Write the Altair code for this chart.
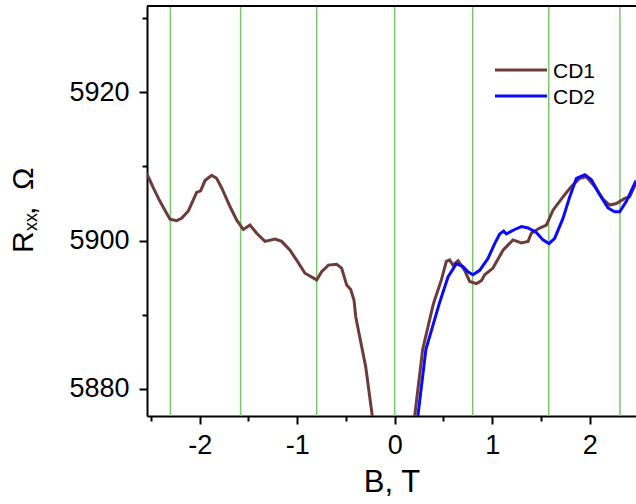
import altair as alt
import pandas as pd

# ---- data ----
cd1_neg_B = [-2.544, -2.475, -2.407, -2.356, -2.304, -2.236, -2.185, -2.116, -2.065, -2.031, -1.99,
             -1.945, -1.877, -1.826, -1.774, -1.689, -1.621, -1.552, -1.484, -1.415, -1.33, -1.227,
             -1.159, -1.073, -0.987, -0.92, -0.80, -0.749, -0.68, -0.595, -0.544, -0.492, -0.451,
             -0.417, -0.40, -0.366, -0.297, -0.229, -0.215]
cd1_neg_R = [5909.1, 5907.1, 5905.3, 5904.1, 5902.9, 5902.7, 5903.0, 5904.0, 5905.5, 5906.5, 5906.7,
             5908.1, 5908.8, 5908.4, 5907.1, 5904.6, 5902.8, 5901.5, 5902.1, 5901.0, 5899.9, 5900.2,
             5899.9, 5898.7, 5897.0, 5895.6, 5894.7, 5895.8, 5896.7, 5896.8, 5896.3, 5894.0, 5893.4,
             5892.0, 5889.8, 5887.5, 5883.0, 5876.3, 5874.5]

cd1_pos_B = [0.195, 0.205, 0.287, 0.39, 0.41, 0.479, 0.53, 0.564, 0.598, 0.65, 0.718, 0.769, 0.838,
             0.889, 0.923, 1.008, 1.111, 1.213, 1.30, 1.368, 1.402, 1.487, 1.556, 1.624, 1.726,
             1.812, 1.897, 1.966, 2.051, 2.136, 2.205, 2.274, 2.359, 2.41, 2.475]
cd1_pos_R = [5874.5, 5876.3, 5885.3, 5891.1, 5892.0, 5894.7, 5897.2, 5897.4, 5896.7, 5897.3, 5896.0,
             5894.5, 5894.2, 5894.6, 5895.4, 5896.3, 5898.7, 5900.1, 5899.7, 5899.9, 5901.0, 5901.7,
             5902.1, 5904.1, 5905.9, 5907.3, 5908.4, 5908.6, 5907.3, 5905.6, 5904.8, 5905.0, 5905.7,
             5905.9, 5907.8]

cd2_B = [0.225, 0.235, 0.32, 0.455, 0.547, 0.633, 0.70, 0.752, 0.803, 0.872, 0.957, 1.026, 1.077,
         1.118, 1.145, 1.231, 1.30, 1.368, 1.453, 1.521, 1.583, 1.641, 1.726, 1.795, 1.864, 1.95,
         2.018, 2.103, 2.188, 2.256, 2.308, 2.376, 2.475]
cd2_R = [5874.5, 5876.0, 5885.3, 5891.4, 5895.1, 5896.9, 5896.5, 5895.8, 5895.4, 5896.0, 5897.6,
         5899.6, 5900.9, 5901.3, 5900.9, 5901.5, 5901.9, 5901.7, 5901.1, 5900.1, 5899.6, 5900.3,
         5903.0, 5905.9, 5908.4, 5908.9, 5908.2, 5906.2, 5904.4, 5903.9, 5903.9, 5905.3, 5908.1]

green_B = [-2.30, -1.58, -0.80, 0.0, 0.80, 1.58, 2.31]

series_names = ["CD1", "CD2"]
x_ticks = [-2.5, -2, -1.5, -1, -0.5, 0, 0.5, 1, 1.5, 2]
y_ticks = [5880, 5890, 5900, 5910, 5920, 5930]

BROWN = "#6e3b3b"
BLUE = "#0a0aff"
GREEN = "#7cc46e"
FONT = "Liberation Sans"

rows = []
for b, r in zip(cd1_neg_B, cd1_neg_R):
    rows.append({"B": b, "R": r, "series": "CD1", "seg": "CD1a"})
for b, r in zip(cd1_pos_B, cd1_pos_R):
    rows.append({"B": b, "R": r, "series": "CD1", "seg": "CD1b"})
for b, r in zip(cd2_B, cd2_R):
    rows.append({"B": b, "R": r, "series": "CD2", "seg": "CD2"})
df = pd.DataFrame(rows)
df_g = pd.DataFrame({"B": green_B})

xscale = alt.Scale(domain=[-2.54, 2.475], nice=False, zero=False)
yscale = alt.Scale(domain=[5876.35, 5931.64], nice=False, zero=False)

xaxis = alt.Axis(
    values=x_ticks, title=None, grid=False,
    labelExpr="abs(datum.value % 1) > 0.01 ? '' : '' + datum.value",
    tickSize={"condition": {"test": "abs(datum.value % 1) > 0.01", "value": 5}, "value": 8},
    tickWidth=2, tickColor="black", domainWidth=2, domainColor="black",
    labelFont=FONT, labelFontSize=27, labelColor="black", labelPadding=8,
    labelOverlap=False, labelFlush=False,
)
yaxis = alt.Axis(
    values=y_ticks, title=None, grid=False,
    labelExpr="abs(datum.value % 20) > 1 ? '' : '' + datum.value",
    tickSize={"condition": {"test": "abs(datum.value % 20) > 1", "value": 5}, "value": 8},
    tickWidth=2, tickColor="black", domainWidth=2, domainColor="black",
    labelFont=FONT, labelFontSize=27, labelColor="black", labelPadding=10,
    labelOverlap=False, labelFlush=False,
)

green = alt.Chart(df_g).mark_rule(color=GREEN, strokeWidth=1.5).encode(
    x=alt.X("B:Q", scale=xscale, axis=xaxis)
)

lines = alt.Chart(df).mark_line(clip=True, strokeWidth=3).encode(
    x=alt.X("B:Q", scale=xscale, axis=xaxis),
    y=alt.Y("R:Q", scale=yscale, axis=yaxis),
    color=alt.Color("series:N", scale=alt.Scale(domain=series_names, range=[BROWN, BLUE]), legend=None),
    detail="seg:N",
)

one = pd.DataFrame({"a": [0]})
W, H = 489, 410

top_border = alt.Chart(one).mark_rule(color="black", strokeWidth=2).encode(
    x=alt.value(0), x2=alt.value(W), y=alt.value(0)
)

# manual legend
leg_layers = []
for i, (name, col) in enumerate(zip(series_names, [BROWN, BLUE])):
    yy = 64 + 26 * i
    leg_layers.append(alt.Chart(one).mark_rule(color=col, strokeWidth=3).encode(
        x=alt.value(348), x2=alt.value(400), y=alt.value(yy)))
    leg_layers.append(alt.Chart(one).mark_text(
        text=name, font=FONT, fontSize=21, color="black", align="left", baseline="alphabetic"
    ).encode(x=alt.value(406), y=alt.value(yy + 7.5)))

# axis titles
def txt(s, x, y, size, angle=0, align="left"):
    kw = dict(text=s, font=FONT, fontSize=size, color="black", align=align, baseline="alphabetic")
    if angle:
        kw["angle"] = angle
    return alt.Chart(one).mark_text(**kw).encode(x=alt.value(x), y=alt.value(y))

titles = [
    txt("B, T", 245, 486, 31, align="center"),
    txt("R", -114, 247, 30, angle=270),
    txt("xx", -110.5, 225, 18, angle=270),
    txt(",", -112, 209, 30, angle=270),
    txt("Ω", -114, 184, 30, angle=270),
]

chart = alt.layer(green, lines, top_border, *leg_layers, *titles).properties(
    width=W, height=H,
    autosize=alt.AutoSizeParams(type="none"),
    padding={"left": 147, "top": 6, "right": 0, "bottom": 88},
).configure_view(stroke=None).configure(background="white")

chart.save("out.html", embed_options={"renderer": "svg", "actions": False})
